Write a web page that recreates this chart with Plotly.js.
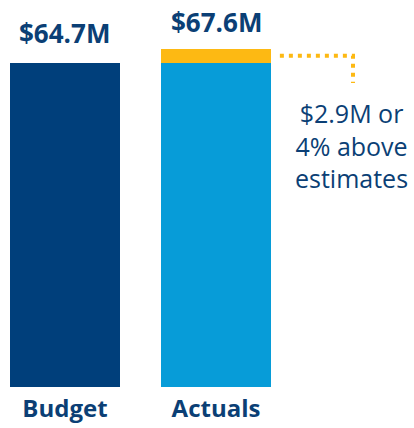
<!DOCTYPE html>
<html>
<head>
<meta charset="utf-8">
<script src="https://cdn.plot.ly/plotly-3.0.1.min.js"></script>
<style>html,body{margin:0;padding:0;background:#fff;}#chart{width:414px;height:428px;}</style>
</head>
<body>
<div id="chart"></div>
<script>
const categories = ["Budget", "Actuals"];
const baseValues = [64.7, 64.7];
const overage = [0, 2.9];
const totals = [64.7, 67.6];
const totalLabels = ["$64.7M", "$67.6M"];
const noteText = "$2.9M or<br>4% above<br>estimates";

const navy = "#003F7B";
const sky = "#079CD8";
const gold = "#FDB913";
const textColor = "#0B3F75";
const fontFamily = "'Open Sans', 'Noto Sans', sans-serif";
const labelShifts = [10, 7];

const traces = [
  {
    type: "bar",
    x: categories,
    y: baseValues,
    marker: { color: [navy, sky] },
    width: 0.728,
    hoverinfo: "skip"
  },
  {
    type: "bar",
    x: categories,
    y: overage,
    marker: { color: gold },
    width: 0.728,
    hoverinfo: "skip"
  }
];

const annotations = categories.map((c, i) => ({
  x: c, y: totals[i], xref: "x", yref: "y",
  text: "<b>" + totalLabels[i] + "</b>",
  showarrow: false, yanchor: "bottom", yshift: labelShifts[i],
  font: { family: fontFamily, size: 26, color: textColor }
}));
annotations.push({
  x: 0.845, xref: "paper", y: 0.625, yref: "paper",
  text: noteText, showarrow: false, xanchor: "center", yanchor: "middle",
  align: "center",
  font: { family: fontFamily, size: 25, color: textColor }
});

const midOver = baseValues[1] + overage[1] / 2;
const shapes = [{
  type: "path", xref: "paper", yref: "y",
  path: "M 0.668 " + midOver + " L 0.849 " + midOver + " L 0.849 60.7",
  line: { color: gold, width: 4, dash: "4px,5px" }
}];

const layout = {
  width: 414, height: 428,
  margin: { l: 10, r: 0, t: 0, b: 41 },
  paper_bgcolor: "#fff", plot_bgcolor: "#fff",
  barmode: "stack",
  showlegend: false,
  xaxis: {
    type: "category",
    range: [-0.364, 2.311],
    showgrid: false, zeroline: false, showline: false, ticks: "",
    ticklabelstandoff: 5,
    tickfont: { family: fontFamily, size: 24, color: textColor, weight: "bold" },
    fixedrange: true
  },
  yaxis: {
    range: [0, 77.3],
    visible: false, showgrid: false, zeroline: false, fixedrange: true
  },
  annotations: annotations,
  shapes: shapes
};

Plotly.newPlot("chart", traces, layout, { displayModeBar: false, staticPlot: true });
</script>
</body>
</html>
